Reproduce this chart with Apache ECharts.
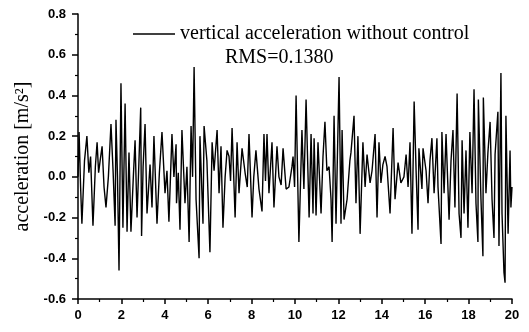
<!DOCTYPE html>
<html>
<head>
<meta charset="utf-8">
<script src="https://cdn.jsdelivr.net/npm/echarts@6/dist/echarts.min.js"></script>
<style>html,body{margin:0;padding:0;background:#fff;}#c{width:529px;height:332px;}</style>
</head>
<body>
<div id="c"></div>
<script>
var seriesName = 'vertical acceleration without control';
var rmsText = 'RMS=0.1380';
var yAxisName = 'acceleration [m/s\u00B2]';
var xTicks = [0, 2, 4, 6, 8, 10, 12, 14, 16, 18, 20];
var yTicks = [-0.6, -0.4, -0.2, 0.0, 0.2, 0.4, 0.6, 0.8];

var times = [
0.00,0.05,0.12,0.18,0.30,0.41,0.50,0.58,0.69,0.80,0.88,0.95,1.02,1.11,1.20,1.29,1.40,1.52,1.62,1.71,
1.75,1.82,1.89,1.98,2.07,2.17,2.26,2.35,2.44,2.55,2.63,2.72,2.80,2.89,2.93,3.00,3.09,3.18,3.32,3.41,
3.50,3.64,3.75,3.87,4.01,4.10,4.19,4.33,4.42,4.52,4.54,4.62,4.70,4.79,4.93,5.02,5.12,5.21,5.28,5.35,
5.44,5.58,5.62,5.76,5.81,5.94,6.08,6.18,6.27,6.41,6.50,6.59,6.68,6.78,6.87,6.96,7.03,7.10,7.24,7.33,
7.42,7.56,7.70,7.80,7.88,8.02,8.10,8.20,8.34,8.48,8.57,8.64,8.71,8.80,8.94,9.03,9.17,9.26,9.36,9.45,
9.59,9.72,9.86,9.91,9.98,10.05,10.18,10.32,10.41,10.51,10.65,10.74,10.83,10.88,10.97,11.06,11.20,11.29,11.38,11.47,
11.57,11.66,11.71,11.80,11.89,12.03,12.12,12.17,12.26,12.40,12.53,12.58,12.72,12.81,12.90,13.00,13.13,13.23,13.32,13.46,
13.55,13.69,13.78,13.87,13.96,14.05,14.15,14.24,14.38,14.52,14.61,14.75,14.88,15.02,15.12,15.21,15.30,15.39,15.49,15.58,
15.67,15.71,15.85,15.90,16.04,16.13,16.22,16.31,16.41,16.54,16.59,16.73,16.77,16.87,16.96,17.10,17.19,17.28,17.37,17.47,
17.56,17.65,17.70,17.79,17.88,17.97,18.06,18.16,18.25,18.34,18.43,18.45,18.57,18.66,18.68,18.80,18.89,18.99,19.08,19.17,
19.22,19.35,19.40,19.49,19.54,19.63,19.68,19.72,19.82,19.91,19.95,20.00
];
var accel = [
0.00,0.22,-0.05,-0.23,0.08,0.20,0.02,0.10,-0.24,0.05,0.17,0.02,0.08,0.15,-0.05,-0.15,0.00,0.26,0.02,-0.24,
0.28,0.00,-0.46,0.46,-0.25,0.36,-0.27,0.12,-0.27,0.00,0.18,-0.20,0.05,0.34,-0.29,0.05,0.26,-0.18,0.06,-0.15,
0.20,-0.23,0.02,0.22,-0.08,0.03,-0.22,0.21,0.00,0.16,-0.13,0.02,-0.26,0.23,-0.13,0.05,-0.32,0.25,0.00,0.54,
-0.11,-0.40,0.20,-0.23,0.25,0.08,-0.37,0.17,0.03,0.23,-0.08,0.15,-0.25,0.00,0.13,0.10,-0.02,0.24,-0.20,0.17,
-0.08,0.14,0.02,-0.05,0.21,-0.20,0.00,0.13,-0.06,-0.17,0.21,-0.02,0.21,-0.08,0.17,-0.15,0.15,0.00,-0.04,0.14,
-0.06,-0.05,0.05,0.10,-0.05,0.40,-0.32,0.23,-0.06,0.38,-0.20,0.21,-0.18,0.19,-0.19,0.17,-0.18,0.10,0.27,0.03,
0.05,-0.11,-0.32,0.30,-0.23,0.49,-0.23,0.23,-0.21,-0.11,0.08,0.12,0.30,-0.13,0.20,-0.28,0.17,-0.05,0.11,-0.03,
0.03,0.21,-0.20,0.17,-0.03,0.06,0.10,0.05,-0.18,0.24,-0.11,0.07,-0.03,0.00,0.11,-0.05,0.17,-0.28,0.37,0.03,
-0.26,0.14,-0.06,0.14,0.03,-0.13,0.08,0.19,-0.08,0.19,-0.05,-0.33,0.22,-0.08,0.21,-0.21,0.08,0.23,-0.15,0.41,
-0.18,-0.30,0.18,-0.18,0.13,-0.25,0.22,-0.08,0.43,-0.13,-0.32,0.38,-0.11,-0.39,0.39,-0.08,0.12,0.27,-0.11,-0.30,
0.11,0.32,-0.34,0.51,-0.18,-0.47,-0.52,0.30,-0.28,0.13,-0.15,-0.05
];

var data = times.map(function (t, i) { return [t, accel[i]]; });

var chart = echarts.init(document.getElementById('c'), null, {renderer: 'canvas'});
var tickFont = {fontFamily: 'Liberation Sans', fontWeight: 'bold', fontSize: 13, color: '#000'};
chart.setOption({
  animation: false,
  backgroundColor: '#fff',
  grid: {left: 78, right: 17, top: 14, bottom: 33, containLabel: false},
  title: {
    text: rmsText, left: 220, top: 43,
    textStyle: {fontFamily: 'Liberation Serif', fontWeight: 'normal', fontSize: 20, color: '#000'}
  },
  legend: {
    data: [seriesName], left: 133, top: 24, icon: 'rect', itemWidth: 42, itemHeight: 1.5,
    itemGap: 0, padding: 0,
    textStyle: {fontFamily: 'Liberation Serif', fontSize: 20, color: '#000', padding: [0, 0, 0, 0]}
  },
  xAxis: {
    type: 'value', min: xTicks[0], max: xTicks[xTicks.length - 1], interval: 2,
    axisLine: {show: true, onZero: false, lineStyle: {color: '#000', width: 1.5}},
    axisTick: {show: true, inside: false, length: 5, lineStyle: {color: '#000', width: 1.5}},
    minorTick: {show: true, splitNumber: 2, length: 3, lineStyle: {color: '#000', width: 1.2}},
    axisLabel: Object.assign({margin: 10}, tickFont),
    splitLine: {show: false}
  },
  yAxis: {
    type: 'value', min: yTicks[0], max: yTicks[yTicks.length - 1], interval: 0.2,
    name: yAxisName, nameLocation: 'middle', nameGap: 42,
    nameTextStyle: {fontFamily: 'Liberation Serif', fontSize: 20, color: '#000'},
    axisLine: {show: true, onZero: false, lineStyle: {color: '#000', width: 1.5}},
    axisTick: {show: true, inside: false, length: 6, lineStyle: {color: '#000', width: 1.5}},
    minorTick: {show: true, splitNumber: 2, length: 3, lineStyle: {color: '#000', width: 1.2}},
    axisLabel: Object.assign({margin: 12, formatter: function (v) { return (Math.abs(v) < 1e-9 ? 0 : v).toFixed(1); }}, tickFont),
    splitLine: {show: false}
  },
  series: [{
    name: seriesName, type: 'line', data: data, showSymbol: false, symbol: 'none',
    lineStyle: {color: '#000', width: 1.4}, itemStyle: {color: '#000'}
  }]
});
</script>
</body>
</html>
